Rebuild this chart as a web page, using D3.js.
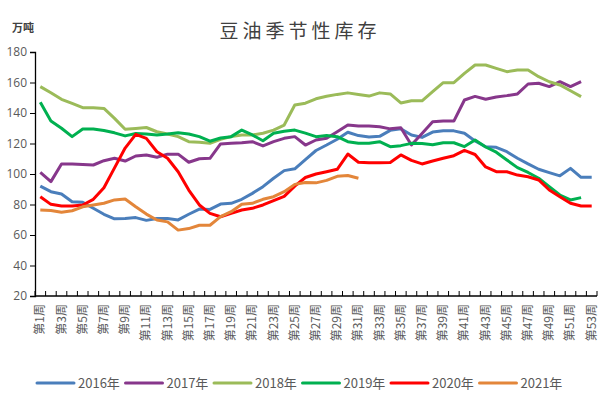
<!DOCTYPE html>
<html>
<head>
<meta charset="utf-8">
<script src="https://cdn.jsdelivr.net/npm/d3@7"></script>
<style>
  body { margin: 0; background: #fff; }
  svg { display: block; font-family: "Noto Sans CJK SC", "Noto Sans", sans-serif; }
</style>
</head>
<body>
<div id="chart"></div>
<script>
const weeks = d3.range(1, 54).map((w) => `第${w}周`);
const yTicks = [20, 40, 60, 80, 100, 120, 140, 160, 180];

const s2016 = [92, 88.4, 86.9, 81.8, 81.4, 77.5, 73.6, 70.6, 70.8, 71.4, 69.6, 70.8, 70.8, 69.9, 73.6, 77, 76.8, 80.3, 80.8, 83.4, 87.3, 91.7, 97.2, 102.2, 103.4, 109.5, 115.4, 119, 122.8, 127.4, 125.2, 124.3, 124.7, 128.6, 129.6, 125.6, 124, 127.5, 128.3, 128.3, 126.7, 121.7, 117.9, 117.5, 114.6, 110.3, 106.6, 103.1, 100.9, 98.8, 103.7, 97.8, 97.8];
const s2017 = [101, 95, 106.6, 106.6, 106.3, 105.9, 108.7, 110.3, 108.5, 111.8, 112.5, 111, 113, 113, 107.7, 110, 110.3, 119.7, 120.1, 120.5, 121.2, 118.4, 121.2, 123.4, 124.5, 119, 122.3, 123.4, 127.7, 132.1, 131.4, 131.4, 131, 129.6, 130.3, 119, 126.5, 134.3, 134.7, 134.7, 148.5, 150.9, 149, 150.5, 151.4, 152.5, 159, 159.5, 157.3, 160.5, 157.3, 160.5];
const s2018 = [157.3, 153.3, 149, 146.3, 143.5, 143.5, 143, 136.5, 129.3, 129.9, 130.5, 127.7, 126.2, 124.5, 121.2, 120.8, 120.1, 122.8, 124.5, 125.6, 125.6, 126.7, 128.8, 132.1, 145.2, 146.4, 149.3, 151, 152.2, 153.2, 152.2, 151.1, 153.2, 152.5, 146.6, 148, 148, 154, 159.9, 159.9, 166, 171.5, 171.5, 169.3, 167.1, 168.2, 168.2, 163.8, 160.5, 158.4, 154.6, 150.7];
const s2019 = [147, 134.8, 130, 124.5, 129.5, 129.5, 128.5, 127, 125, 126.5, 126.2, 125.6, 126.2, 127, 126.2, 124.5, 121.5, 123.6, 124.5, 128.8, 125.6, 121.8, 126.7, 128, 128.8, 126.8, 124.5, 125.3, 124.5, 121.2, 120.1, 120.1, 121.2, 117.9, 118.6, 120.1, 120, 119.2, 120.5, 120.5, 118, 122.3, 117.7, 114.3, 109.2, 104.2, 101, 97.2, 91.7, 86.2, 83, 84.5];
const s2020 = [85.1, 80.1, 79, 79, 79.7, 83.4, 91, 104, 117, 126, 123.4, 114.6, 110.3, 101.5, 89.5, 79.7, 74.2, 72, 74.2, 76.4, 77.5, 79.7, 82.5, 85.3, 92, 97.7, 100, 101.5, 103.1, 113.1, 107.7, 107.4, 107.4, 107.6, 112.5, 108.9, 106.6, 108.5, 110.3, 112, 115.5, 112.8, 104.6, 101.5, 101.5, 99.3, 98.2, 96.1, 89.5, 85.1, 80.8, 79, 79];
const s2021 = [76.4, 76, 74.9, 75.9, 78.5, 79.7, 80.8, 83, 83.6, 78.5, 73.7, 69.8, 68.6, 63.2, 64.2, 66.4, 66.4, 72, 75.3, 80.1, 80.8, 83.4, 85.1, 88.4, 93.2, 94.4, 94.2, 95.8, 98.5, 99, 97.2];

const seriesNames = ["2016年", "2017年", "2018年", "2019年", "2020年", "2021年"];
const seriesColors = ["#4a7ebb", "#87378b", "#9bbb59", "#00b050", "#ff0000", "#e3863a"];
const series = [s2016, s2017, s2018, s2019, s2020, s2021];

const width = 600;
const height = 393;
const margin = { top: 52, right: 3, bottom: 97, left: 35 };

const svg = d3.select("#chart").append("svg").attr("width", width).attr("height", height);

const x = d3.scaleBand().domain(weeks).range([margin.left, width - margin.right]);
const y = d3.scaleLinear().domain([20, 180]).range([height - margin.bottom, margin.top]);

// title + unit
svg.append("text")
  .attr("x", 300).attr("y", 38)
  .attr("text-anchor", "middle")
  .attr("font-size", 19)
  .attr("letter-spacing", 4)
  .attr("fill", "#404040")
  .text("豆油季节性库存");

svg.append("text")
  .attr("x", 12).attr("y", 32)
  .attr("font-size", 11)
  .attr("font-weight", "bold")
  .attr("fill", "#404040")
  .text("万吨");

// y axis
svg.append("g")
  .attr("transform", `translate(${margin.left},0)`)
  .call(d3.axisLeft(y).tickValues(yTicks).tickSize(5).tickPadding(3))
  .call((g) => g.select(".domain").attr("stroke", "#000").attr("stroke-width", 1.3))
  .call((g) => g.selectAll(".tick line").attr("stroke", "#000"))
  .call((g) => g.selectAll(".tick text").attr("font-size", 12).attr("fill", "#595959").attr("font-family", "Open Sans, sans-serif"));

// x axis: ticks at band boundaries, pointing up
const xAxisG = svg.append("g").attr("transform", `translate(0,${y(20)})`);
xAxisG.append("line")
  .attr("x1", margin.left).attr("x2", width - margin.right)
  .attr("stroke", "#000").attr("stroke-width", 1.3);
xAxisG.selectAll("line.tk")
  .data(weeks.concat(["end"]))
  .join("line")
  .attr("class", "tk")
  .attr("x1", (d, i) => margin.left + i * x.step())
  .attr("x2", (d, i) => margin.left + i * x.step())
  .attr("y1", 0).attr("y2", -5)
  .attr("stroke", "#000");
xAxisG.selectAll("text")
  .data(weeks.filter((d, i) => i % 2 === 0))
  .join("text")
  .attr("transform", (d) => `translate(${x(d) + x.bandwidth() / 2 + 4},8) rotate(-90)`)
  .attr("text-anchor", "end")
  .attr("font-size", 12)
  .attr("fill", "#595959")
  .text((d) => d);

// lines
const line = d3.line()
  .x((d, i) => x(weeks[i]) + x.bandwidth() / 2)
  .y((d) => y(d));

svg.append("g")
  .selectAll("path")
  .data(series)
  .join("path")
  .attr("fill", "none")
  .attr("stroke", (d, i) => seriesColors[i])
  .attr("stroke-width", 3)
  .attr("stroke-linejoin", "round")
  .attr("d", line);

// legend
const legend = svg.append("g").attr("transform", "translate(37,383)");
const item = legend.selectAll("g")
  .data(seriesNames)
  .join("g")
  .attr("transform", (d, i) => `translate(${i * 88.5},0)`);
item.append("line")
  .attr("x1", 0).attr("x2", 37)
  .attr("stroke", (d, i) => seriesColors[i])
  .attr("stroke-width", 3)
  .attr("stroke-linecap", "round");
item.append("text")
  .attr("x", 41).attr("y", 5)
  .attr("font-size", 13)
  .attr("fill", "#595959")
  .text((d) => d);
</script>
</body>
</html>
